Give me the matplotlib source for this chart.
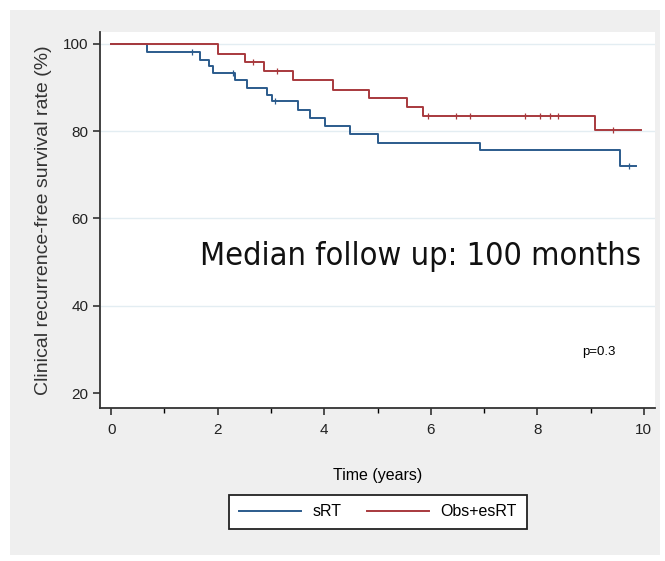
import numpy as np
import matplotlib
matplotlib.use("Agg")
import matplotlib.pyplot as plt
from matplotlib.patches import Rectangle

# Kaplan-Meier step estimates, time in years / survival in %
srt_time = [0, 0.67, 1.67, 1.83, 1.91, 2.33, 2.55, 2.92, 3.01, 3.51, 3.73,
            4.01, 4.48, 5.01, 6.92, 9.56, 9.86]
srt_surv = [100, 98.2, 96.3, 94.8, 93.3, 91.8, 89.9, 88.3, 86.8, 84.9, 83.0,
            81.1, 79.4, 77.3, 75.6, 72.1, 72.1]
obs_time = [0, 2.0, 2.51, 2.87, 3.42, 4.17, 4.84, 5.55, 5.86, 9.08, 9.95]
obs_surv = [100, 97.7, 95.8, 93.7, 91.6, 89.5, 87.6, 85.6, 83.4, 80.3, 80.3]

# censored observations
srt_cens = [1.51, 2.29, 3.08, 9.72]
obs_cens = [2.67, 3.11, 5.95, 6.48, 6.73, 7.77, 8.05, 8.24, 8.39, 9.42]

labels = ["sRT", "Obs+esRT"]
colors = ["#2b5b8c", "#a8393d"]
x_ticks = [0, 2, 4, 6, 8, 10]
y_ticks = [20, 40, 60, 80, 100]


def step_value(times, surv, t):
    idx = np.searchsorted(times, t, side="right") - 1
    return np.asarray(surv)[idx]


plt.rcParams["font.family"] = ["Liberation Sans", "DejaVu Sans"]

fig = plt.figure(figsize=(6.65, 5.61), dpi=100)
fig.patch.set_facecolor("white")
# grey panel behind the whole graph
panel = Rectangle((10 / 665, 6 / 561), 650 / 665, 545 / 561,
                  transform=fig.transFigure, facecolor="#efefef",
                  edgecolor="none", zorder=-5)
fig.add_artist(panel)

ax = fig.add_axes([100 / 665, 1 - 408 / 561, 555 / 665, 376 / 561])
ax.set_facecolor("white")

for y in [40, 60, 80, 100]:
    ax.axhline(y, color="#e3edf2", lw=1.0, zorder=1)

series = [(srt_time, srt_surv, srt_cens), (obs_time, obs_surv, obs_cens)]
for (t, s, c), lab, col in zip(series, labels, colors):
    ax.step(t, s, where="post", color=col, lw=1.4, label=lab, zorder=3)
    ax.plot(c, step_value(t, s, c), ls="none", marker="|", ms=4,
            mew=0.9, color=col, zorder=3)

ax.set_xlim(-0.21, 10.21)
ax.set_ylim(16.6, 102.7)
ax.set_xticks(x_ticks)
ax.set_xticks([1, 3, 5, 7, 9], minor=True)
ax.set_yticks(y_ticks)
ax.tick_params(axis="both", direction="out", length=5, width=1.1,
               labelsize=11, colors="#222222")
ax.tick_params(axis="x", which="minor", length=3.5, width=1)
ax.tick_params(axis="x", pad=6)
for side in ["top", "right"]:
    ax.spines[side].set_visible(False)
for side in ["left", "bottom"]:
    ax.spines[side].set_color("#333333")
    ax.spines[side].set_linewidth(1.3)

ax.set_xlabel("Time (years)", fontsize=11.5, labelpad=22)
ax.set_ylabel("Clinical recurrence-free survival rate (%)", fontsize=14,
              labelpad=8, color="#333333")

ax.text(1.67, 49.4, "Median follow up: 100 months", fontsize=23.3,
        family="DejaVu Sans", fontstretch="condensed", va="baseline",
        ha="left", color="#111111")
ax.text(8.84, 29.4, "p=0.3", fontsize=9.5, va="center", ha="left")

leg = fig.legend(loc="center", bbox_to_anchor=(378 / 665, 1 - 512 / 561),
                 ncol=2, frameon=True, fancybox=False, fontsize=11.5,
                 handlelength=3.9, handletextpad=0.7, columnspacing=1.6,
                 borderpad=0.6, edgecolor="#222222", framealpha=1.0)
leg.get_frame().set_linewidth(1.3)

fig.savefig("out.png", dpi=100)
